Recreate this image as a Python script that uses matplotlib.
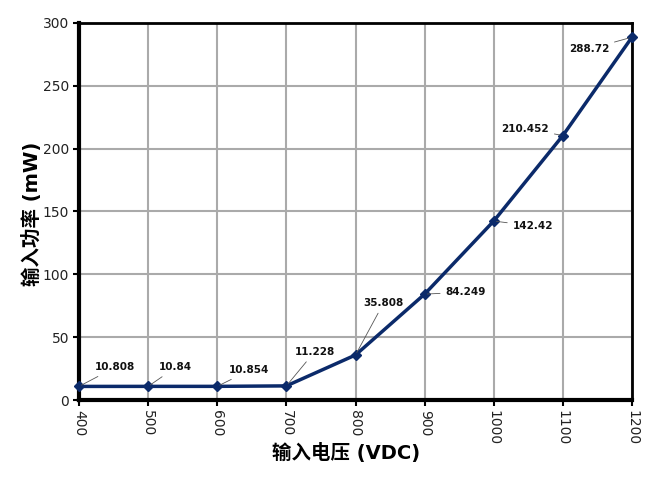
import matplotlib
matplotlib.use("Agg")
import matplotlib.pyplot as plt

voltage = [400, 500, 600, 700, 800, 900, 1000, 1100, 1200]
power = [10.808, 10.84, 10.854, 11.228, 35.808, 84.249, 142.42, 210.452, 288.72]
labels = ["10.808", "10.84", "10.854", "11.228", "35.808", "84.249", "142.42", "210.452", "288.72"]
xticks = [400, 500, 600, 700, 800, 900, 1000, 1100, 1200]
yticks = [0, 50, 100, 150, 200, 250, 300]

plt.rcParams['font.family'] = ['DejaVu Sans']
lab_fam = ['DejaVu Sans', 'Noto Sans CJK SC']

fig = plt.figure(figsize=(6.61, 4.88), dpi=100)
ax = fig.add_axes([79/661, 1-400/488, (632-79)/661, (400-23)/488])

color = '#0B2A6A'
ax.plot(voltage, power, color=color, lw=2.5, marker='D', ms=5, zorder=3, clip_on=False)

ax.set_xlim(400, 1200)
ax.set_ylim(0, 300)
ax.set_xticks(xticks)
ax.set_yticks(yticks)
ax.set_xticklabels([str(v) for v in xticks], rotation=270, fontsize=10, color='#222222')
ax.set_yticklabels([str(v) for v in yticks], fontsize=10, color='#222222')
ax.grid(True, color='#AAAAAA', lw=1.5)
ax.set_axisbelow(True)
ax.tick_params(direction='out', length=4, width=1.5, pad=3)

for side in ['left', 'bottom']:
    ax.spines[side].set_linewidth(3)
for side in ['top', 'right']:
    ax.spines[side].set_linewidth(2)

# label offsets in pixels (dx, dy), with ha
offs = [(16, 19, 'left'), (11, 19, 'left'), (12, 16, 'left'), (8, 34, 'left'),
        (8, 52, 'left'), (21, 2, 'left'), (19, -5, 'left'), (-14, 7, 'right'), (-23, -12, 'right')]
for x, y, lab, (dx, dy, ha) in zip(voltage, power, labels, offs):
    ax.annotate(lab, xy=(x, y), xytext=(dx, dy), textcoords='offset pixels',
                ha=ha, va='center', fontsize=7.5, fontweight='bold', color='#111111',
                arrowprops=dict(arrowstyle='-', color='#555555', lw=0.6,
                                shrinkA=2, shrinkB=2), zorder=4)

ax.set_xlabel('输入电压 (VDC)', family=lab_fam, fontsize=14, fontweight='bold')
ax.set_ylabel('输入功率 (mW)', family=lab_fam, fontsize=14, fontweight='bold')
ax.xaxis.set_label_coords((346-79)/553, (400-443)/377)
ax.yaxis.set_label_coords((42-79)/553, (400-214)/377)

fig.savefig('out.png', dpi=100)
